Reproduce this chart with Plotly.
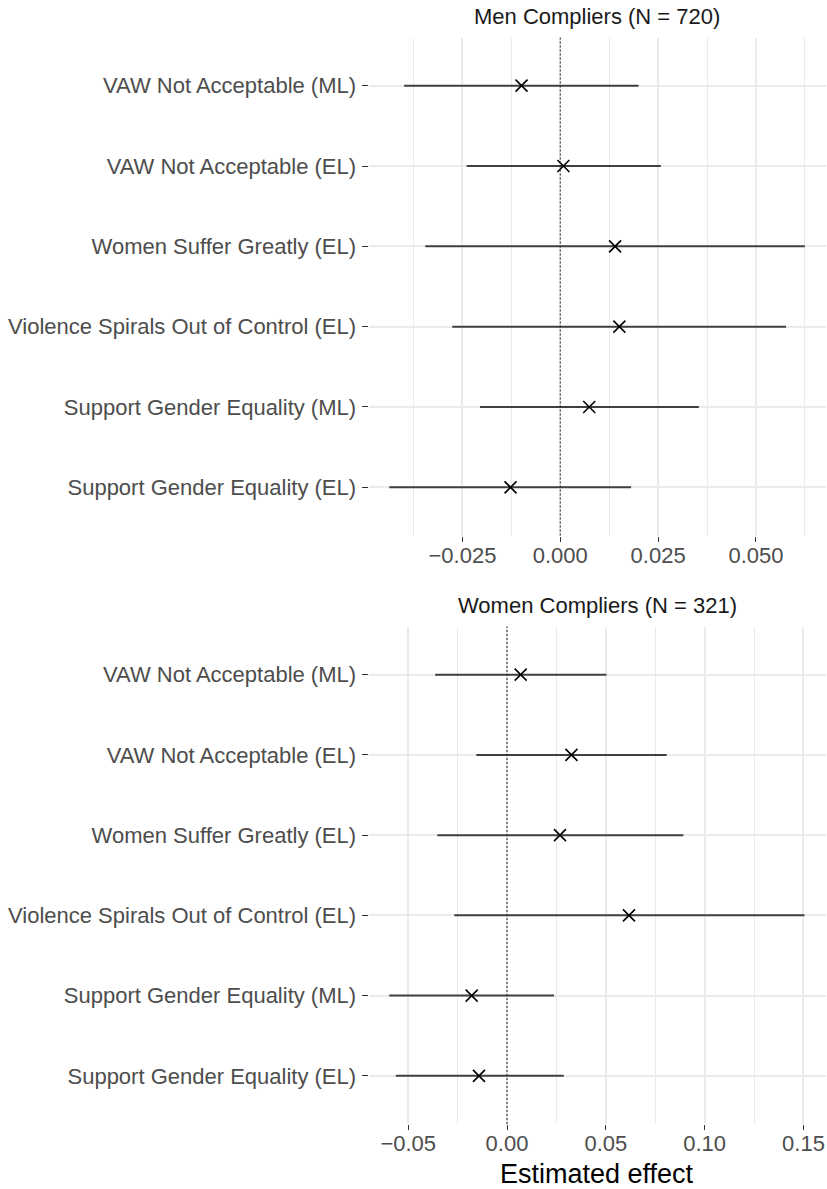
import plotly.graph_objects as go

categories = [
    "VAW Not Acceptable (ML)",
    "VAW Not Acceptable (EL)",
    "Women Suffer Greatly (EL)",
    "Violence Spirals Out of Control (EL)",
    "Support Gender Equality (ML)",
    "Support Gender Equality (EL)",
]

men_est = [-0.0099, 0.0008, 0.0140, 0.0151, 0.0074, -0.0127]
men_lo = [-0.0399, -0.0239, -0.0345, -0.0276, -0.0205, -0.0437]
men_hi = [0.0200, 0.0257, 0.0625, 0.0577, 0.0354, 0.0181]

women_est = [0.0069, 0.0326, 0.0268, 0.0617, -0.0179, -0.0142]
women_lo = [-0.0364, -0.0155, -0.0353, -0.0267, -0.0596, -0.0563]
women_hi = [0.0503, 0.0808, 0.0892, 0.1505, 0.0238, 0.0287]

men_title = "Men Compliers (N = 720)"
women_title = "Women Compliers (N = 321)"
x_title = "Estimated effect"

W, H = 827, 1189
FONT = "Liberation Sans, Arial, Helvetica, sans-serif"

def px_x(p):
    return p / W

def px_y(p):
    return 1 - p / H

x_dom = [px_x(368.5), px_x(826)]
top_dom = [px_y(535.5), px_y(37.5)]
bot_dom = [px_y(1124), px_y(626.5)]

fig = go.Figure()

def add_panel(est, lo, hi, xa, ya):
    plus = [h - e for h, e in zip(hi, est)]
    minus = [e - l for e, l in zip(est, lo)]
    fig.add_trace(go.Scatter(
        x=est, y=categories, mode="markers",
        xaxis=xa, yaxis=ya,
        marker=dict(symbol="x-thin", size=12, color="black",
                    line=dict(color="black", width=1.6)),
        error_x=dict(type="data", symmetric=False, array=plus, arrayminus=minus,
                     width=0, thickness=2.0, color="#404040"),
        showlegend=False, hoverinfo="skip",
    ))

add_panel(men_est, men_lo, men_hi, "x", "y")
add_panel(women_est, women_lo, women_hi, "x2", "y2")

grid = "#ebebeb"
common_x = dict(
    showgrid=True, gridcolor=grid, gridwidth=1.5, zeroline=False,
    showline=False, ticks="outside", ticklen=5, tickwidth=1.1, tickcolor="#333333",
    tickfont=dict(family=FONT, size=22, color="#4d4d4d"),
    ticklabelstandoff=-5,
)
common_y = dict(
    type="category", categoryorder="array", categoryarray=categories[::-1],
    range=[-0.6, 5.6], showgrid=True, gridcolor=grid, gridwidth=1.5,
    zeroline=False, showline=False, ticks="outside", ticklen=6, tickwidth=1.1,
    tickcolor="#333333", tickfont=dict(family=FONT, size=22, color="#4d4d4d"),
    ticklabelstandoff=1,
)

fig.update_layout(
    width=W, height=H, margin=dict(l=0, r=0, t=0, b=0),
    paper_bgcolor="white", plot_bgcolor="white",
    font=dict(family=FONT),
    xaxis=dict(domain=x_dom, anchor="y", range=[-0.0490, 0.0679],
               tickvals=[-0.025, 0, 0.025, 0.05], tickformat=".3f",
               minor=dict(dtick=0.0125, tick0=0, showgrid=True, gridcolor=grid,
                          gridwidth=0.9, ticks=""),
               **common_x),
    yaxis=dict(domain=top_dom, anchor="x", **common_y),
    xaxis2=dict(domain=x_dom, anchor="y2", range=[-0.0701, 0.1614],
                tickvals=[-0.05, 0, 0.05, 0.10, 0.15], tickformat=".2f",
                minor=dict(dtick=0.025, tick0=0, showgrid=True, gridcolor=grid,
                           gridwidth=0.9, ticks=""),
                **common_x),
    yaxis2=dict(domain=bot_dom, anchor="x2", **common_y),
)

for xr, yr in (("x", "y domain"), ("x2", "y2 domain")):
    fig.add_shape(type="line", xref=xr, yref=yr, x0=0, x1=0, y0=0, y1=1,
                  line=dict(color="#222222", width=1, dash="2px,2px"), layer="above")

xc = (x_dom[0] + x_dom[1]) / 2
fig.add_annotation(text=men_title, x=xc, y=px_y(16.5), xref="paper", yref="paper",
                   showarrow=False, font=dict(family=FONT, size=22, color="#1a1a1a"),
                   xanchor="center", yanchor="middle")
fig.add_annotation(text=women_title, x=xc, y=px_y(605), xref="paper", yref="paper",
                   showarrow=False, font=dict(family=FONT, size=22, color="#1a1a1a"),
                   xanchor="center", yanchor="middle")
fig.add_annotation(text=x_title, x=xc, y=px_y(1174), xref="paper", yref="paper",
                   showarrow=False, font=dict(family=FONT, size=27, color="black"),
                   xanchor="center", yanchor="middle")

fig.write_html("out.html", config={"displayModeBar": False},
               post_script="document.body.style.margin='0px';")
